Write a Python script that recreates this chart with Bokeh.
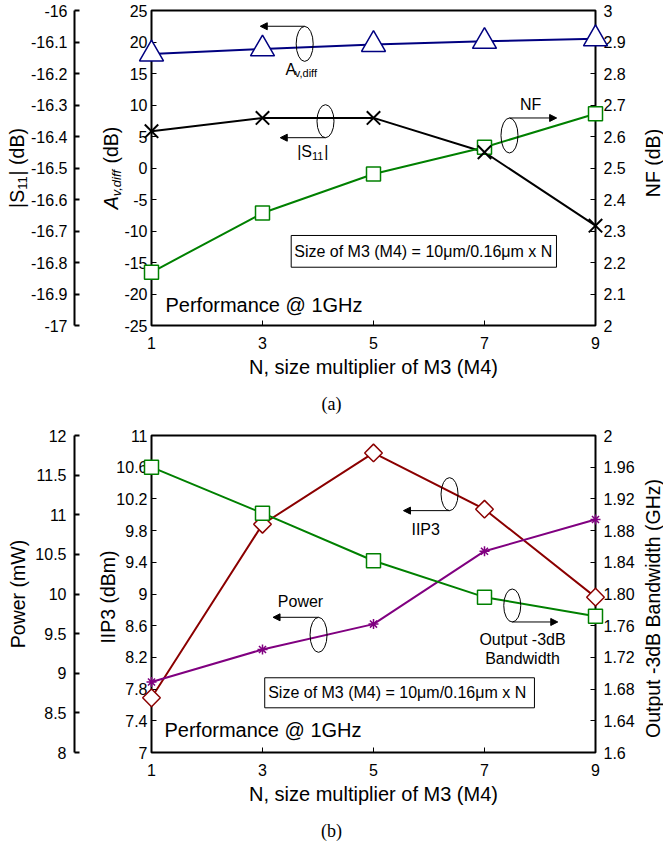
import numpy as np
from bokeh.plotting import figure
from bokeh.layouts import column
from bokeh.core.properties import value
from bokeh.models import (Range1d, LinearAxis, FixedTicker, Arrow,
                          NormalHead, BoxAnnotation, CustomJSTickFormatter)
from bokeh.embed import file_html
from bokeh.resources import INLINE

# ---------------- data ----------------
N_VALUES = [1, 3, 5, 7, 9]
AV_DIFF = [18.1, 18.9, 19.6, 20.1, 20.5]
S11 = [-16.383, -16.341, -16.341, -16.45, -16.683]
NF = [2.169, 2.357, 2.481, 2.566, 2.672]
IIP3 = [7.69, 9.88, 10.78, 10.07, 8.96]
POWER = [8.89, 9.30, 9.62, 10.54, 10.94]
BW = [1.960, 1.902, 1.842, 1.796, 1.772]

X_TICKS = [1, 3, 5, 7, 9]
AV_TICKS = [-25, -20, -15, -10, -5, 0, 5, 10, 15, 20, 25]
AV_LABELS = ["-25", "-20", "-15", "-10", "-5", "0", "5", "10", "15", "20", "25"]
S11_TICKS = [-17, -16.9, -16.8, -16.7, -16.6, -16.5, -16.4, -16.3, -16.2, -16.1, -16]
S11_LABELS = ["-17", "-16.9", "-16.8", "-16.7", "-16.6", "-16.5", "-16.4", "-16.3", "-16.2", "-16.1", "-16"]
NF_TICKS = [2, 2.1, 2.2, 2.3, 2.4, 2.5, 2.6, 2.7, 2.8, 2.9, 3]
NF_LABELS = ["2", "2.1", "2.2", "2.3", "2.4", "2.5", "2.6", "2.7", "2.8", "2.9", "3"]
IIP3_TICKS = [7, 7.4, 7.8, 8.2, 8.6, 9, 9.4, 9.8, 10.2, 10.6, 11]
IIP3_LABELS = ["7", "7.4", "7.8", "8.2", "8.6", "9", "9.4", "9.8", "10.2", "10.6", "11"]
POWER_TICKS = [8, 8.5, 9, 9.5, 10, 10.5, 11, 11.5, 12]
POWER_LABELS = ["8", "8.5", "9", "9.5", "10", "10.5", "11", "11.5", "12"]
BW_TICKS = [1.6, 1.64, 1.68, 1.72, 1.76, 1.8, 1.84, 1.88, 1.92, 1.96, 2]
BW_LABELS = ["1.6", "1.64", "1.68", "1.72", "1.76", "1.80", "1.84", "1.88", "1.92", "1.96", "2"]

# ---------------- layout constants ----------------
FONT = "Liberation Sans"
SERIF = "Liberation Serif"
TICK_FS = "16px"
TITLE_FS = 19.5
SUB_FS = 13
SUB_SHIFT = 5.8
W = 663
FL = 151
FW = 444
X_RNG = (1, 9)
NAVY = "#000080"
GREEN = "#008000"
DRED = "#8B0000"
PURPLE = "#800080"


def xpx(dx):
    return X_RNG[0] + dx * (X_RNG[1] - X_RNG[0]) / FW


def ypx(dy, rng, fh):
    return rng[1] - dy * (rng[1] - rng[0]) / fh


def fmt(ticks, labels):
    return CustomJSTickFormatter(args=dict(vals=ticks, labs=labels), code="""
const i = vals.findIndex((v) => Math.abs(v - tick) < 1e-6);
return i >= 0 ? labs[i] : "";
""")


def axis_common(**kw):
    d = dict(major_tick_out=0, minor_tick_line_color=None,
             major_label_text_font=FONT, major_label_text_font_size=TICK_FS,
             major_label_text_color="black", major_tick_line_color="black")
    d.update(kw)
    return d


def make_fig(h, fh, top, y_rng):
    p = figure(width=W, height=h, x_range=Range1d(*X_RNG), y_range=Range1d(*y_rng),
               output_backend="svg", toolbar_location=None, tools="",
               min_border_left=FL, min_border_right=W - FL - FW, min_border_top=top,
               min_border_bottom=h - top - fh, x_axis_type=None, y_axis_type=None)
    p.xgrid.visible = False
    p.ygrid.visible = False
    p.outline_line_color = "black"
    p.outline_line_width = 2
    p.outline_line_alpha = 1
    p.background_fill_color = "white"
    p.border_fill_color = "white"
    xa = LinearAxis(ticker=FixedTicker(ticks=X_TICKS), axis_line_color=None,
                    major_label_standoff=11, **axis_common(major_tick_in=5))
    p.add_layout(xa, "below")
    return p


def label(p, x, y, text, size="16px", align="center", baseline="middle", font=FONT,
          style="normal", angle=0.0):
    p.text(x=[x], y=[y], text=[text], angle=angle, text_font=value(font),
           text_font_size=value(size), text_align=align, text_baseline=baseline,
           text_color="black", text_font_style=style, level="overlay")


def vtitle(p, base_dx, center_dy, pieces, rng, fh):
    total = sum(pc[3] for pc in pieces)
    pos = center_dy + total / 2.0
    for text, fs, style, adv, shift in pieces:
        label(p, xpx(base_dx + shift), ypx(pos, rng, fh), text, size=f"{fs}px",
              align="left", baseline="middle", style=style, angle=np.pi / 2)
        pos -= adv


def ellipse_arrow(p, ex, ey, eh, ax0, ax1, ay):
    p.ellipse(x=[ex], y=[ey], width=17, height=eh, width_units="screen",
              height_units="screen", fill_color=None, line_color="black", line_width=1)
    p.add_layout(Arrow(end=NormalHead(size=7, fill_color="black", line_color="black"),
                       x_start=ax0, y_start=ay, x_end=ax1, y_end=ay,
                       line_color="black", line_width=1))


# ======================= panel (a) =======================
HA, FHA, TOPA = 425, 315, 10
AV_RNG = (-25, 25)
pa = make_fig(HA, FHA, TOPA, AV_RNG)
pa.extra_y_ranges = {"s11": Range1d(-17, -16), "nf": Range1d(2, 3)}

ya_in = LinearAxis(ticker=FixedTicker(ticks=AV_TICKS), formatter=fmt(AV_TICKS, AV_LABELS),
                   axis_line_color=None, major_label_standoff=4, axis_label=" ",
                   axis_label_standoff=43, axis_label_text_font_size="1px",
                   **axis_common(major_tick_in=5))
pa.add_layout(ya_in, "left")
ya_out = LinearAxis(y_range_name="s11", ticker=FixedTicker(ticks=S11_TICKS),
                    formatter=fmt(S11_TICKS, S11_LABELS), axis_line_color="black",
                    axis_line_width=2, major_tick_line_width=2, major_label_standoff=7,
                    **axis_common(major_tick_in=5))
pa.add_layout(ya_out, "left")
ya_r = LinearAxis(y_range_name="nf", ticker=FixedTicker(ticks=NF_TICKS),
                  formatter=fmt(NF_TICKS, NF_LABELS), axis_line_color=None,
                  major_label_standoff=8, **axis_common(major_tick_in=5))
pa.add_layout(ya_r, "right")

# series
pa.line(N_VALUES, AV_DIFF, line_color=NAVY, line_width=2)
pa.line(N_VALUES, S11, y_range_name="s11", line_color="black", line_width=2)
pa.line(N_VALUES, NF, y_range_name="nf", line_color=GREEN, line_width=2)
pa.scatter(N_VALUES, AV_DIFF, marker="triangle", size=24, line_color=NAVY,
           fill_color="white", line_width=1.5, level="overlay")
pa.scatter(N_VALUES, NF, y_range_name="nf", marker="square", size=14, line_color=GREEN,
           fill_color="white", line_width=1.5, level="overlay")
pa.scatter(N_VALUES, S11, y_range_name="s11", marker="x", size=19, line_color="black",
           line_width=2, level="overlay")

# annotations
ellipse_arrow(pa, 3.76, 19.7, 35, 3.76, 2.96, 22.5)
label(pa, 3.414, 15.68, "A", align="left")
label(pa, 3.582, 15.13, "v,diff", size="11px", align="left")
ellipse_arrow(pa, 4.135, 7.43, 33, 4.135, 3.32, 4.81)
label(pa, 3.625, 2.6, "|S", align="left")
label(pa, 3.625 + 0.267, 1.87, "11", size="11px", align="left")
label(pa, 3.625 + 0.267 + 0.22, 2.6, "|", align="left")
ellipse_arrow(pa, 7.45, 5.16, 35, 7.45, 8.30, 7.94)
label(pa, 7.83, 10.08, "NF")
pa.add_layout(BoxAnnotation(left=3.517, right=8.297, top=-10.71, bottom=-15.75,
                            fill_color=None, fill_alpha=0, line_color="black",
                            line_width=1, line_alpha=1))
label(pa, 5.897, -13.22, "Size of M3 (M4) = 10μm/0.16μm x N")
label(pa, 1.252, -21.67, "Performance @ 1GHz", size="20px", align="left")

# axis titles
sp = 0.278 * TITLE_FS
vtitle(pa, -134.5, FHA / 2, [("|S", TITLE_FS, "normal", 0.927 * TITLE_FS, 0),
                             ("11", SUB_FS, "normal", 1.112 * SUB_FS, SUB_SHIFT),
                             ("| (dB)", TITLE_FS, "normal", 2.427 * TITLE_FS, 0)], AV_RNG, FHA)
vtitle(pa, -41, FHA / 2, [("A", TITLE_FS, "italic", 0.667 * TITLE_FS, 0),
                          ("v,diff", SUB_FS, "italic", 2.112 * SUB_FS + sp, SUB_SHIFT),
                          ("(dB)", TITLE_FS, "normal", 1.889 * TITLE_FS, 0)], AV_RNG, FHA)
label(pa, xpx(501), ypx(FHA / 2 - 5, AV_RNG, FHA), "NF (dB)", size=f"{TITLE_FS}px",
      angle=np.pi / 2)
label(pa, xpx(FW / 2), ypx(FHA + 41.5, AV_RNG, FHA), "N, size multiplier of M3 (M4)",
      size="20px")
label(pa, xpx(180), ypx(FHA + 78, AV_RNG, FHA), "(a)", size="18px", font=SERIF)

# ======================= panel (b) =======================
HB, FHB, TOPB = 421, 317, 10
IIP3_RNG = (7, 11)
pb = make_fig(HB, FHB, TOPB, IIP3_RNG)
pb.extra_y_ranges = {"pw": Range1d(8, 12), "bw": Range1d(1.6, 2)}

yb_in = LinearAxis(ticker=FixedTicker(ticks=IIP3_TICKS), formatter=fmt(IIP3_TICKS, IIP3_LABELS),
                   axis_line_color=None, major_label_standoff=4, axis_label=" ",
                   axis_label_standoff=35, axis_label_text_font_size="1px",
                   **axis_common(major_tick_in=5))
pb.add_layout(yb_in, "left")
yb_out = LinearAxis(y_range_name="pw", ticker=FixedTicker(ticks=POWER_TICKS),
                    formatter=fmt(POWER_TICKS, POWER_LABELS), axis_line_color="black",
                    axis_line_width=2, major_tick_line_width=2, major_label_standoff=8,
                    **axis_common(major_tick_in=5))
pb.add_layout(yb_out, "left")
yb_r = LinearAxis(y_range_name="bw", ticker=FixedTicker(ticks=BW_TICKS),
                  formatter=fmt(BW_TICKS, BW_LABELS), axis_line_color=None,
                  major_label_standoff=8, **axis_common(major_tick_in=5))
pb.add_layout(yb_r, "right")

pb.line(N_VALUES, IIP3, line_color=DRED, line_width=2)
pb.line(N_VALUES, POWER, y_range_name="pw", line_color=PURPLE, line_width=2)
pb.line(N_VALUES, BW, y_range_name="bw", line_color=GREEN, line_width=2)
pb.scatter(N_VALUES, IIP3, marker="square", angle=np.pi / 4, size=12.5, line_color=DRED,
           fill_color="white", line_width=1.5, level="overlay")
pb.scatter(N_VALUES, POWER, y_range_name="pw", marker="asterisk", size=10,
           line_color=PURPLE, line_width=1.5, level="overlay")
pb.scatter(N_VALUES, BW, y_range_name="bw", marker="square", size=14, line_color=GREEN,
           fill_color="white", line_width=1.5, level="overlay")

ellipse_arrow(pb, 6.37, 10.26, 33, 6.37, 5.54, 10.052)
label(pb, 5.94, 9.82, "IIP3")
ellipse_arrow(pb, 4.01, 8.485, 35, 4.01, 3.19, 8.706)
label(pb, 3.685, 8.91, "Power")
ellipse_arrow(pb, 7.50, 8.855, 33, 7.50, 8.32, 8.647)
label(pb, 7.685, 8.42, "Output -3dB")
label(pb, 7.685, 8.18, "Bandwidth")
pb.add_layout(BoxAnnotation(left=3.04, right=7.90, top=7.943, bottom=7.564,
                            fill_color=None, fill_alpha=0, line_color="black",
                            line_width=1, line_alpha=1))
label(pb, 5.427, 7.753, "Size of M3 (M4) = 10μm/0.16μm x N")
label(pb, 1.234, 7.278, "Performance @ 1GHz", size="20px", align="left")

label(pb, xpx(-133.5), ypx(FHB / 2, IIP3_RNG, FHB), "Power (mW)", size=f"{TITLE_FS}px",
      angle=np.pi / 2)
label(pb, xpx(-44), ypx(FHB / 2 + 3, IIP3_RNG, FHB), "IIP3 (dBm)", size=f"{TITLE_FS}px",
      angle=np.pi / 2)
label(pb, xpx(501.5), ypx(173, IIP3_RNG, FHB), "Output -3dB Bandwidth (GHz)",
      size=f"{TITLE_FS}px", angle=np.pi / 2)
label(pb, xpx(FW / 2), ypx(FHB + 41.5, IIP3_RNG, FHB), "N, size multiplier of M3 (M4)",
      size="20px")
label(pb, xpx(180), ypx(FHB + 78, IIP3_RNG, FHB), "(b)", size="18px", font=SERIF)

layout = column(pa, pb, spacing=0)
open("out.html", "w").write(file_html(layout, INLINE))
